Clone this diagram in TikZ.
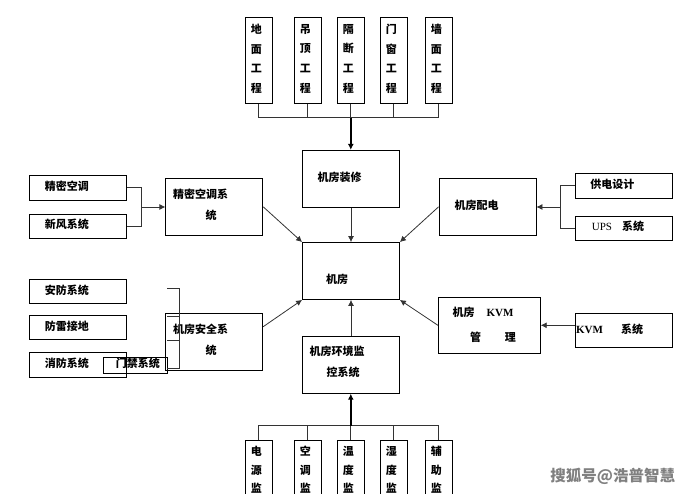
\documentclass[tikz,border=0pt]{standalone}
\usepackage{fontspec}
\setmainfont{Liberation Serif}
\newfontfamily\cjk{Noto Sans CJK SC}
\usetikzlibrary{arrows.meta}
\tikzset{
  box/.style={draw,line width=0.8pt,inner sep=0pt,minimum width=97pt,minimum height=57pt},
  sidebox/.style={draw,line width=0.8pt,inner sep=0pt,minimum width=97.4pt,minimum height=24.5pt},
  tallbox/.style={draw,line width=0.8pt,inner sep=0pt,minimum width=27pt,minimum height=86pt},
  lowbox/.style={draw,line width=0.8pt,anchor=north,inner sep=0pt,minimum width=27pt,minimum height=80pt},
  stack/.style={inner sep=0pt,align=center,font=\cjk\bfseries\fontsize{11}{19.6}\selectfont},
  stacklow/.style={inner sep=0pt,align=center,font=\cjk\bfseries\fontsize{11}{18.6}\selectfont},
  lbl/.style={inner sep=0pt,yshift=-0.6pt,font=\cjk\bfseries\fontsize{11}{12}\selectfont},
  link/.style={draw=black!80,line width=0.8pt},
  arrow/.style={link,-{Latex[length=6pt,width=6pt]}},
  heavy/.style={draw=black,line width=1.5pt,-{Latex[length=6pt,width=6pt]}}
}
\begin{document}
\begin{tikzpicture}[x=1pt,y=-1pt]
  \useasboundingbox (0,0) rectangle (689,494);
  \clip (0,0) rectangle (689,494);
  % top row
  \foreach \name/\x/\txt in {dimian/258.8/地\\面\\工\\程, diaoding/307.8/吊\\顶\\工\\程,
      geduan/350.8/隔\\断\\工\\程, menchuang/393.8/门\\窗\\工\\程, qiangmian/438.8/墙\\面\\工\\程}
  {
    \node (\name) at (\x,60.3) [tallbox] {};
    \node (\name txt) at ([xshift=-2.5pt,yshift=1.5pt]\name.center) [stack] {\txt};
  }
  % bottom row
  \foreach \name/\x/\txt in {dianyuan/258.8/电\\源\\监, kongtiao/307.8/空\\调\\监,
      wendu/350.8/温\\度\\监, shidu/393.8/湿\\度\\监, fuzhu/438.8/辅\\助\\监}
  {
    \node (\name) at (\x,440.3) [lowbox] {};
    \node (\name txt) at ([xshift=-2.5pt,yshift=-29.7pt]\name.north) [stacklow] {\txt};
  }
  % centre column
  \node (zhuangxiu) at (351,178.8) [box] {};
  \node (zhuangxiutxt) at (339.5,176.7) [lbl] {机房装修};
  \node (jifang) at (351,271) [box] {};
  \node (jifangtxt) at (337,279) [lbl] {机房};
  \node (huanjing) at (351,364.8) [box] {};
  \node (huanjingtxt) at (337,351) [lbl] {机房环境监};
  \node (huanjingtxtb) at (343,372) [lbl] {控系统};
  % left side
  \node (jingmi) at (78,187.8) [sidebox] {};
  \node (jingmitxt) at (67,186) [lbl] {精密空调};
  \node (xinfeng) at (78,226.3) [sidebox] {};
  \node (xinfengtxt) at (67,224) [lbl] {新风系统};
  \node (kongtiaoxt) at (214.3,206.8) [box] {};
  \node (kongtiaoxttxt) at (200.5,194) [lbl] {精密空调系};
  \node (kongtiaoxttxtb) at (211,215) [lbl] {统};
  \node (anfang) at (78,291.3) [sidebox] {};
  \node (anfangtxt) at (67,290) [lbl] {安防系统};
  \node (fanglei) at (78,327.3) [sidebox] {};
  \node (fangleitxt) at (67,326) [lbl] {防雷接地};
  \node (xiaofang) at (78,364.8) [sidebox] {};
  \node (xiaofangtxt) at (67,363) [lbl] {消防系统};
  \node (anquan) at (214.3,341.8) [box] {};
  \node (anquantxt) at (200.5,329) [lbl] {机房安全系};
  \node (anquantxtb) at (211,350) [lbl] {统};
  \node (menjin) at (135.3,365.3) [draw,line width=0.8pt,inner sep=0pt,minimum width=64pt,minimum height=16pt] {};
  \node (menjintxt) at (137.8,363) [lbl] {门禁系统};
  % right side
  \node (peidian) at (487.5,206.8) [box] {};
  \node (peidiantxt) at (476.7,205) [lbl] {机房配电};
  \node (gongdian) at (623.8,185.8) [sidebox] {};
  \node (gongdiantxt) at (612.3,184) [lbl] {供电设计};
  \node (ups) at (623.8,228.3) [sidebox] {};
  \node (upstxt) at (618,226) [lbl] {{\rmfamily\mdseries UPS}\hspace{10pt}系统};
  \node (kvmgl) at (489.3,325.3) [box,minimum width=102pt,minimum height=56pt] {};
  \node (kvmgltxt) at (483,312) [lbl] {机房\hspace{12pt}{\rmfamily KVM}};
  \node (kvmgltxtb) at (493,337) [lbl] {管\hspace{24pt}理};
  \node (kvmxt) at (623.8,330.3) [sidebox,minimum height=34pt] {};
  \node (kvmxttxt) at (609.6,329) [lbl] {{\rmfamily KVM}\hspace{18pt}系统};
  % top and bottom buses
  \coordinate (bustop) at (350.8,117.7);
  \coordinate (buslow) at (350.8,425.7);
  \draw[link] (dimian.south) |- (qiangmian.south |- bustop) -- (qiangmian.south);
  \draw[link] (diaoding.south) -- (diaoding.south |- bustop);
  \draw[link] (menchuang.south) -- (menchuang.south |- bustop);
  \draw[link] (geduan.south) -- (bustop);
  \draw[heavy] (bustop) -- (zhuangxiu.north -| bustop);
  \draw[link] (dianyuan.north) |- (fuzhu.north |- buslow) -- (fuzhu.north);
  \draw[link] (kongtiao.north) -- (kongtiao.north |- buslow);
  \draw[link] (shidu.north) -- (shidu.north |- buslow);
  \draw[link] (wendu.north) -- (buslow);
  \draw[heavy] (buslow) -- (huanjing.south -| buslow);
  % left and right forks
  \coordinate (forkl) at (141.3,207);
  \draw[link] (jingmi.east) -| (forkl) |- (xinfeng.east);
  \draw[arrow] (forkl) -- (kongtiaoxt.west |- forkl);
  \coordinate (forkr) at (560.3,207);
  \draw[link] (gongdian.west) -| (forkr) |- (ups.west);
  \draw[arrow] (forkr) -- (peidian.east |- forkr);
  \draw[arrow] ([yshift=5pt]kvmxt.west) -- (kvmgl.east);
  % bracket
  \coordinate (brtop) at (179,288);
  \coordinate (brlow) at (179,368);
  \draw[link] (167,288) -- (brtop) -- (brlow) -- (167,368);
  \draw[link] (167,316.7) -- (179,316.7);
  \draw[link] (167,340) -- (179,340);
  % into the centre box
  \draw[arrow] (zhuangxiu.south) -- (jifang.north);
  \draw[arrow] (huanjing.north) -- (jifang.south);
  \draw[arrow] (kongtiaoxt.east) -- (jifang.north west);
  \draw[arrow] (anquan.east |- 0,326.7) -- (jifang.south west);
  \draw[arrow] (peidian.west) -- (jifang.north east);
  \draw[arrow] (kvmgl.west) -- (jifang.south east);
  % watermark
  \node (mark) at (612.8,476.7) [inner sep=0pt,text=black!50,font=\cjk\bfseries\fontsize{15.5}{16}\selectfont] {搜狐号@浩普智慧};
\end{tikzpicture}
\end{document}
